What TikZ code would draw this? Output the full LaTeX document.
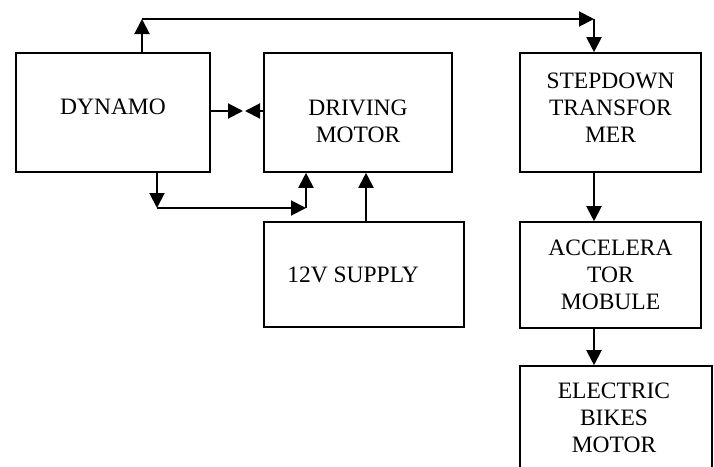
\documentclass[tikz,border=0pt]{standalone}
\usepackage{fontspec}
\setmainfont{Liberation Serif}
\usetikzlibrary{arrows.meta}
\begin{document}
\begin{tikzpicture}[x=1pt,y=-1pt,
  box/.style={draw,line width=1.6pt,inner sep=0pt},
  txt/.style={inner sep=0pt,align=center,font=\fontsize{23.5}{27}\selectfont},
  conn/.style={line width=2pt,-{Triangle[length=15pt,width=15pt]}}]
\useasboundingbox (0,0) rectangle (714,466);
\clip (0,0) rectangle (714,466);
% boxes
\node[box,minimum width=194pt,minimum height=119pt] (dyn) at (113,112.5) {};
\node[box,minimum width=188pt,minimum height=119pt] (drv) at (358,112.5) {};
\node[box,minimum width=181pt,minimum height=119pt] (stp) at (610.5,112.5) {};
\node[box,minimum width=200pt,minimum height=105pt] (sup) at (364,274.5) {};
\node[box,minimum width=181pt,minimum height=106pt] (acc) at (610.5,275) {};
\node[box,minimum width=192pt,minimum height=114pt] (ele) at (616,423) {};
% texts
\node[txt] (dynt) at (113,107) {DYNAMO};
\node[txt] (drvt) at (358,121) {DRIVING\\MOTOR};
\node[txt] (stpt) at (610.5,108) {STEPDOWN\\TRANSFOR\\MER};
\node[txt] (supt) at (353,275) {12V SUPPLY};
\node[txt] (acct) at (610.5,275) {ACCELERA\\TOR\\MOBULE};
\node[txt] (elet) at (614,418) {ELECTRIC\\BIKES\\MOTOR};
% connector points
\coordinate (t1) at (142,19);
\coordinate (t2) at (594,19);
\coordinate (m1) at (243,111);
\coordinate (m2) at (245,111);
\coordinate (b1) at (157,208);
\coordinate (b2) at (306,208);
\coordinate (s) at (366,200);
% connectors
\draw[conn] (dyn.north -| t1) -- (t1);
\draw[conn] (t1) -- (t2);
\draw[conn] (t2) -- (stp.north -| t2);
\draw[conn] (dyn.east |- m1) -- (m1);
\draw[conn] (drv.west |- m2) -- (m2);
\draw[conn] (dyn.south -| b1) -- (b1);
\draw[conn] (b1) -- (b2);
\draw[conn] (b2) -- (drv.south -| b2);
\draw[conn] (sup.north -| s) -- (drv.south -| s);
\draw[conn] (stp.south -| t2) -- (acc.north -| t2);
\draw[conn] (acc.south -| t2) -- (ele.north -| t2);
\end{tikzpicture}
\end{document}
